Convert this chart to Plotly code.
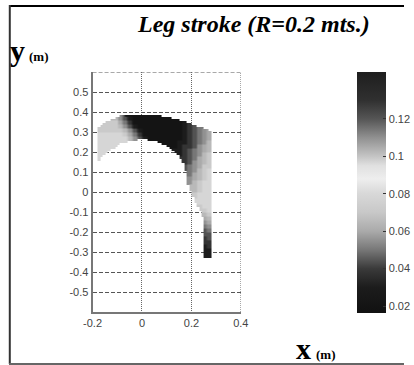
import numpy as np
import plotly.graph_objects as go

# ---- data -----------------------------------------------------------------
# grey level of the field on a 0.02 m grid (cell centres)
x_centers = [-0.17, -0.15, -0.13, -0.11, -0.09, -0.07, -0.05, -0.03, -0.01,
             0.01, 0.03, 0.05, 0.07, 0.09, 0.11, 0.13, 0.15, 0.17, 0.19,
             0.21, 0.23, 0.25, 0.27]
y_centers = [0.39, 0.37, 0.35, 0.33, 0.31, 0.29, 0.27, 0.25, 0.23, 0.21,
             0.19, 0.17, 0.15, 0.13, 0.11, 0.09, 0.07, 0.05, 0.03, 0.01,
             -0.01, -0.03, -0.05, -0.07, -0.09, -0.11, -0.13, -0.15, -0.17,
             -0.19, -0.21, -0.23, -0.25, -0.27, -0.29, -0.31]
# one string per row (top to bottom), one character per column
# (spaces only group the columns by five); '.' = no reading
shade_rows = [
    "..... .0000 00... ..... ...",
    "...75 31000 00000 0.... ...",
    ".8886 42000 00000 001.. ...",
    "88887 53100 00000 00123 4..",
    "88888 75310 00000 00123 456",
    "99999 86420 00000 00123 456",
    "99999 97531 00000 00123 456",
    "99999 ..... ...00 01123 457",
    "999.. ..... ....0 01223 567",
    "99... ..... ..... 11234 567",
    "9.... ..... ..... .1234 578",
    "..... ..... ..... ..234 678",
    "..... ..... ..... ..235 678",
    "..... ..... ..... ..345 688",
    "..... ..... ..... ...45 789",
    "..... ..... ..... ...46 789",
    "..... ..... ..... ...56 789",
    "..... ..... ..... ...57 899",
    "..... ..... ..... ....7 899",
    "..... ..... ..... ....7 899",
    "..... ..... ..... ....8 999",
    "..... ..... ..... ..... 999",
    "..... ..... ..... ..... 999",
    "..... ..... ..... ..... 899",
    "..... ..... ..... ..... .89",
    "..... ..... ..... ..... .78",
    "..... ..... ..... ..... .67",
    "..... ..... ..... ..... .56",
    "..... ..... ..... ..... .45",
    "..... ..... ..... ..... .34",
    "..... ..... ..... ..... .33",
    "..... ..... ..... ..... .23",
    "..... ..... ..... ..... .22",
    "..... ..... ..... ..... .12",
    "..... ..... ..... ..... .11",
    "..... ..... ..... ..... .11",
]
shade_values = {"0": 0.020, "1": 0.030, "2": 0.038, "3": 0.044, "4": 0.050,
                "5": 0.055, "6": 0.060, "7": 0.065, "8": 0.071, "9": 0.079}

# outline of the reachable area, per 0.01 m column (x = -0.175 ... 0.275)
col_top = [0.332, 0.340, 0.348, 0.356, 0.363, 0.369, 0.374, 0.379, 0.383,
           0.386, 0.388, 0.390, 0.391, 0.392, 0.393, 0.394, 0.394, 0.394,
           0.394, 0.394, 0.394, 0.392, 0.391, 0.389, 0.387, 0.385, 0.383,
           0.381, 0.379, 0.376, 0.373, 0.370, 0.367, 0.363, 0.359, 0.355,
           0.350, 0.346, 0.342, 0.338, 0.334, 0.330, 0.325, 0.321, 0.317,
           0.313]
col_bottom = [0.165, 0.177, 0.188, 0.199, 0.208, 0.217, 0.225, 0.232, 0.240,
              0.246, 0.251, 0.255, 0.258, 0.261, 0.263, 0.265, 0.266, 0.267,
              0.267, 0.266, 0.265, 0.263, 0.261, 0.257, 0.253, 0.249, 0.244,
              0.238, 0.231, 0.223, 0.213, 0.202, 0.188, 0.170, 0.150, 0.110,
              0.040, 0.010, -0.020, -0.045, -0.065, -0.090, -0.120, -0.326,
              -0.326, -0.326]

cbar_ticks = [0.02, 0.04, 0.06, 0.08, 0.10, 0.12]
cbar_ticklabels = ["0.02", "0.04", "0.06", "0.08", "0.1", "0.12"]
x_ticks = [-0.2, 0, 0.2, 0.4]
x_ticklabels = ["-0.2", "0", "0.2", "0.4"]
y_ticks = [-0.5, -0.4, -0.3, -0.2, -0.1, 0, 0.1, 0.2, 0.3, 0.4, 0.5]
y_ticklabels = ["-0.5", "-0.4", "-0.3", "-0.2", "-0.1", "0", "0.1", "0.2",
                "0.3", "0.4", "0.5"]
x_range = [-0.2, 0.4]
y_range = [-0.6, 0.6]
z_min, z_max = 0.0163, 0.145

# ---- build ----------------------------------------------------------------
ncol = len(x_centers)
coarse = []
for row in shade_rows:
    row = row.replace(" ", "")
    assert len(row) == ncol, row
    coarse.append([np.nan if ch == "." else shade_values[ch] for ch in row])
coarse = np.array(coarse)
assert coarse.shape[0] == len(y_centers)
cx, cy = np.array(x_centers), np.array(y_centers)
rj, ci = np.nonzero(~np.isnan(coarse))
kx, ky, kv = cx[ci], cy[rj], coarse[rj, ci]

# fine 0.01 m raster: each cell inside the outline takes the nearest reading
nfx = len(col_top)
xf = np.round(-0.175 + 0.01 * np.arange(nfx), 3)
yf = np.round(-0.325 + 0.01 * np.arange(73), 3)
zf = np.full((len(yf), nfx), np.nan)
for a, yv in enumerate(yf):
    for b, xv in enumerate(xf):
        if col_bottom[b] <= yv <= col_top[b]:
            k = int(np.argmin((kx - xv) ** 2 + (ky - yv) ** 2))
            zf[a, b] = kv[k]

stops = [(0.0163, "#111111"), (0.03, "#1c1c1c"), (0.04, "#3a3a3a"),
         (0.05, "#777777"), (0.06, "#aaaaaa"), (0.07, "#c8c8c8"),
         (0.08, "#d8d8d8"), (0.088, "#eeeeee"), (0.095, "#e0e0e0"),
         (0.10, "#c4c4c4"), (0.11, "#909090"), (0.12, "#555555"),
         (0.13, "#303030"), (0.145, "#1e1e1e")]
colorscale = [[(v - z_min) / (z_max - z_min), c] for v, c in stops]

W, H = 414, 365
# the page shows the paper from x=8 px to x=405 px, full height
PX0, PXW = 8.0, 397.0


def px(sx):
    return (sx - PX0) / PXW


def py(sy):
    return 1 - sy / H


L, R, T, B = 92, 241, 72, 312

fig = go.Figure()
fig.add_trace(go.Heatmap(
    x=xf, y=yf, z=zf, zsmooth="best",
    colorscale=colorscale, zmin=z_min, zmax=z_max, hoverinfo="skip",
    colorbar=dict(
        x=px(358), xanchor="left", y=py(T), yanchor="top",
        thickness=29, thicknessmode="pixels", len=313 - T, lenmode="pixels",
        outlinewidth=0, tickvals=cbar_ticks, ticktext=cbar_ticklabels,
        ticks="inside", ticklen=3, tickcolor="#333", tickwidth=1,
        tickfont=dict(family="Liberation Sans", size=11, color="#444"),
        xpad=0, ypad=0,
    ),
))

axis_font = dict(family="Liberation Sans", size=11, color="#444")
fig.update_layout(
    width=W, height=H, autosize=False, margin=dict(l=0, r=0, t=0, b=0),
    paper_bgcolor="white", plot_bgcolor="white", showlegend=False,
    xaxis=dict(domain=[px(L), px(R)], range=x_range, tickvals=x_ticks,
               ticktext=x_ticklabels, showgrid=True, griddash="1px,1px",
               gridcolor="#666", gridwidth=1, showline=True,
               linecolor="#777", linewidth=2, zeroline=False, ticks="",
               tickfont=axis_font, fixedrange=True),
    yaxis=dict(domain=[py(B), py(T)], range=y_range,
               tickvals=y_ticks, ticktext=y_ticklabels, showgrid=True,
               griddash="4px,2px", gridcolor="#555", gridwidth=1,
               showline=True, linecolor="#777", linewidth=2,
               zeroline=False, ticks="", tickfont=axis_font,
               fixedrange=True),
)

fig.add_shape(type="line", xref="x", yref="y", x0=x_range[0], x1=x_range[1],
              y0=y_range[1], y1=y_range[1], layer="below",
              line=dict(color="#555", width=1, dash="4px,2px"))
fig.add_shape(type="line", xref="x", yref="y", x0=x_range[1], x1=x_range[1],
              y0=y_range[0], y1=y_range[1], layer="below",
              line=dict(color="#666", width=1, dash="1px,1px"))

# frame around figure
fig.add_shape(type="line", xref="paper", yref="paper", x0=0, x1=1,
              y0=py(6), y1=py(6), line=dict(color="#000", width=2))
fig.add_shape(type="line", xref="paper", yref="paper", x0=0.002, x1=0.002,
              y0=py(5), y1=py(364), line=dict(color="#333", width=2))
fig.add_shape(type="line", xref="paper", yref="paper", x0=0, x1=1,
              y0=py(364), y1=py(364), line=dict(color="#666", width=2))

serif = "Liberation Serif"
fig.add_annotation(text="Leg stroke (R=0.2 mts.)", xref="paper", yref="paper",
                   x=px(254), y=py(24), xanchor="center",
                   yanchor="middle", showarrow=False,
                   font=dict(family=serif, size=24, color="#000",
                             weight="bold", style="italic"))
fig.add_annotation(text="y", xref="paper", yref="paper", x=px(7),
                   y=py(51), xanchor="left", yanchor="middle",
                   showarrow=False,
                   font=dict(family=serif, size=30, color="#000",
                             weight="bold"))
fig.add_annotation(text="(m)", xref="paper", yref="paper", x=px(26),
                   y=py(56), xanchor="left", yanchor="middle",
                   showarrow=False,
                   font=dict(family=serif, size=13, color="#000",
                             weight="bold"))
fig.add_annotation(text="x", xref="paper", yref="paper", x=px(294),
                   y=py(348), xanchor="left", yanchor="middle",
                   showarrow=False,
                   font=dict(family=serif, size=30, color="#000",
                             weight="bold"))
fig.add_annotation(text="(m)", xref="paper", yref="paper", x=px(315),
                   y=py(354), xanchor="left", yanchor="middle",
                   showarrow=False,
                   font=dict(family=serif, size=13, color="#000",
                             weight="bold"))

fig.write_html("out.html", config={"responsive": False})
